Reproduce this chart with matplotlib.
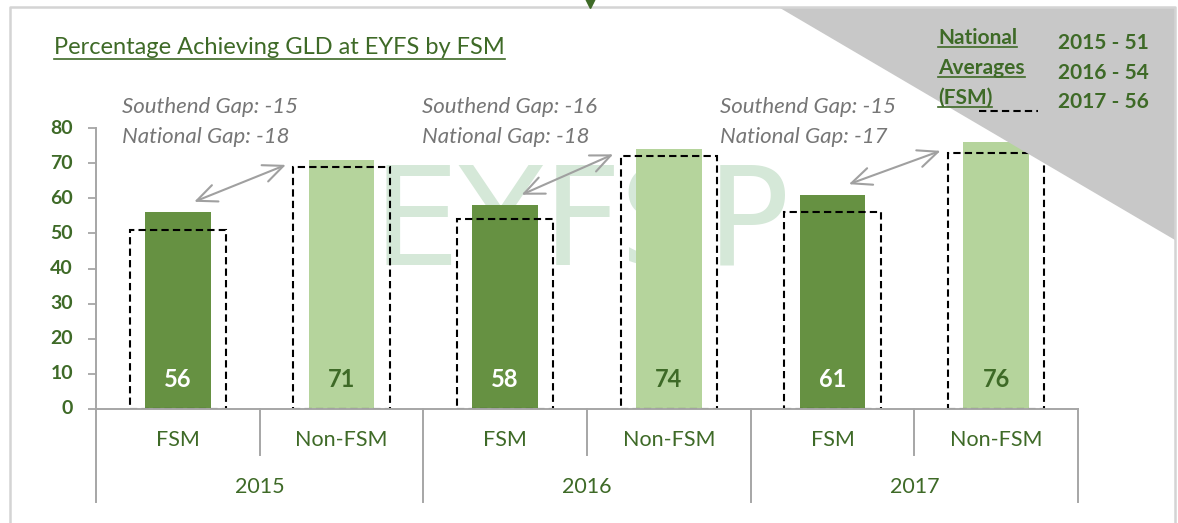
import numpy as np
import matplotlib
matplotlib.use("Agg")
import matplotlib.pyplot as plt
from matplotlib.patches import Polygon
from matplotlib.lines import Line2D

# data
years = ['2015', '2016', '2017']
groups = ['FSM', 'Non-FSM']
southend_fsm = [56, 58, 61]
southend_non_fsm = [71, 74, 76]
national_fsm = [51, 54, 56]
national_non_fsm = [69, 72, 73]
y_ticks = [0, 10, 20, 30, 40, 50, 60, 70, 80]

dark = '#669142'
light = '#b5d49c'
text_green = '#3e6a27'
grey_text = '#767676'
axis_grey = '#a6a6a6'

plt.rcParams['font.family'] = ['Lato', 'DejaVu Sans']

W, H = 1178, 523
fig = plt.figure(figsize=(W / 100, H / 100), dpi=100)


def fx(px):
    return px / W


def fy(py):
    return 1 - py / H


ax = fig.add_axes([fx(96), fy(409), fx(1078) - fx(96), fy(128) - fy(409)])
ax.patch.set_visible(False)

n = len(years)
x_fsm = np.arange(n) * 2
x_non = x_fsm + 1

ax.bar(x_fsm, southend_fsm, width=0.4, color=dark, zorder=2)
ax.bar(x_non, southend_non_fsm, width=0.4, color=light, zorder=2)

dash = (0, (3.5, 2))
ax.bar(x_fsm, national_fsm, width=0.59, fill=False, edgecolor='black',
       linestyle=dash, linewidth=1.5, zorder=3)
ax.bar(x_non, national_non_fsm, width=0.59, fill=False, edgecolor='black',
       linestyle=dash, linewidth=1.5, zorder=3)

# value labels inside bars
for i in range(n):
    ax.text(x_fsm[i], 8.3, str(southend_fsm[i]), ha='center', va='center',
            fontsize=17, fontweight='bold', color='white', zorder=4)
    ax.text(x_non[i], 8.3, str(southend_non_fsm[i]), ha='center', va='center',
            fontsize=17, fontweight='bold', color=text_green, zorder=4)

# gap arrows + text
gap_text_x = [-0.34, 1.49, 3.31]
for i in range(n):
    ax.annotate('', xy=(x_non[i] - 0.34, national_non_fsm[i] + 0.5),
                xytext=(x_fsm[i] + 0.1, southend_fsm[i] + 3),
                arrowprops=dict(arrowstyle='<->,head_length=0.8,head_width=0.35',
                                color='#a0a0a0', lw=1.5, mutation_scale=18,
                                shrinkA=0, shrinkB=0),
                annotation_clip=False, zorder=4)
    s_gap = southend_fsm[i] - southend_non_fsm[i]
    n_gap = national_fsm[i] - national_non_fsm[i]
    ax.text(gap_text_x[i], 86.0, f'Southend Gap: {s_gap}', fontsize=16,
            style='italic', color=grey_text, va='center', clip_on=False)
    ax.text(gap_text_x[i], 77.5, f'National Gap: {n_gap}', fontsize=16,
            style='italic', color=grey_text, va='center', clip_on=False)

# watermark
ax.text(fx(581), fy(265), 'EYFSP', transform=fig.transFigure, fontsize=99,
        family='DejaVu Sans', color='#d5e8d8', ha='center', va='baseline',
        zorder=1, clip_on=False)

# axes styling
ax.set_xlim(-0.5, 5.5)
ax.set_ylim(0, 80)
ax.set_yticks(y_ticks)
ax.set_yticklabels([])
ax.set_xticks([])
ax.tick_params(axis='y', direction='out', length=6, width=1.3, color=axis_grey)
ytrans = ax.get_yaxis_transform()
for v in y_ticks:
    ax.text(-0.0235, v, str(v), transform=ytrans, ha='right', va='center',
            fontsize=14, fontweight='bold', color=text_green, clip_on=False)
for side in ['top', 'right']:
    ax.spines[side].set_visible(False)
for side in ['left', 'bottom']:
    ax.spines[side].set_color(axis_grey)
    ax.spines[side].set_linewidth(1.4)
    ax.spines[side].set_zorder(5)

# multi-level category axis
trans = ax.get_xaxis_transform()
for k, b in enumerate(np.arange(-0.5, 2 * n, 1)):
    bottom = -0.331 if k % 2 == 0 else -0.1637
    ax.add_line(Line2D([b, b], [0, bottom], transform=trans, color=axis_grey,
                       lw=1.4, clip_on=False))
for i in range(n):
    for j, g in enumerate(groups):
        ax.text(2 * i + j, -0.110, g, transform=trans, ha='center', va='center',
                fontsize=15.5, color=text_green)
    ax.text(2 * i + 0.5, -0.278, years[i], transform=trans, ha='center',
            va='center', fontsize=15.5, color=text_green)

# grey corner triangle
fig.add_artist(Polygon([(fx(780), fy(8)), (fx(1175), fy(8)), (fx(1175), fy(240))],
                       closed=True, facecolor='#c8c8c8', edgecolor='none',
                       transform=fig.transFigure, zorder=5))

# frame
fig.add_artist(Line2D([fx(10), fx(10), fx(1175), fx(1175)],
                      [fy(523), fy(7), fy(7), fy(523)], color='#d4d4d4', lw=1.8,
                      transform=fig.transFigure, zorder=7))
fig.add_artist(Line2D([fx(590)], [fy(3)], marker='v', markersize=7,
                      color=text_green, transform=fig.transFigure, zorder=8))

# title and legend text
title = fig.text(fx(54), fy(54), 'Percentage Achieving GLD at EYFS by FSM',
                 fontsize=17, color=text_green, va='baseline')
leg_words = ['National', 'Averages', '(FSM)']
leg_base = [44, 74, 104]
leg_texts = []
for w, b in zip(leg_words, leg_base):
    leg_texts.append(fig.text(fx(938), fy(b), w, fontsize=15, fontweight='bold',
                              color=text_green, va='baseline', zorder=8))
nat_base = [49, 79, 108]
for i in range(n):
    fig.text(fx(1058), fy(nat_base[i]), f'{years[i]} - {national_fsm[i]}',
             fontsize=15, fontweight='bold', color=text_green, va='baseline',
             zorder=8)
fig.add_artist(Line2D([fx(979), fx(1038)], [fy(111), fy(111)], color='black',
                      lw=1.5, linestyle=dash, transform=fig.transFigure, zorder=8))

# underlines
fig.canvas.draw()
r = fig.canvas.get_renderer()
for t, py in [(title, 59)] + list(zip(leg_texts, [47, 77, 107])):
    bb = t.get_window_extent(renderer=r)
    fig.add_artist(Line2D([bb.x0 / W, bb.x1 / W], [fy(py), fy(py)],
                          color=text_green, lw=1.2, transform=fig.transFigure,
                          zorder=8))

fig.savefig('out.png', dpi=100)
